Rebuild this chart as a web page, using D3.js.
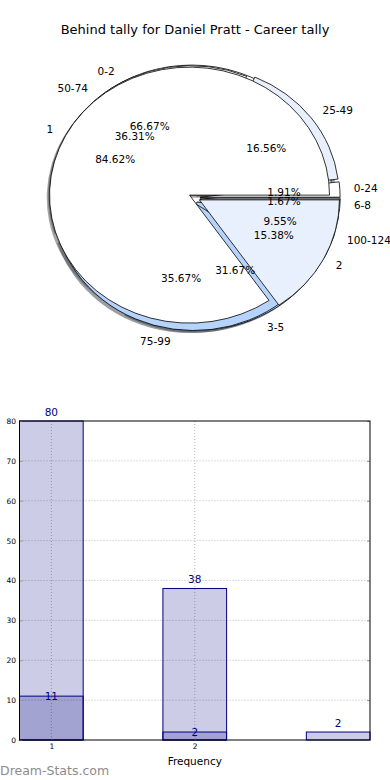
<!DOCTYPE html>
<meta charset="utf-8">
<script src="https://d3js.org/d3.v7.min.js"></script>
<style>
  body { margin: 0; background: #fff; }
  svg text { font-family: "DejaVu Sans", sans-serif; }
</style>
<div id="chart"></div>
<script>
// data
var behindLabels = ["0-2", "3-5", "6-8"]
var behindCounts = [40, 19, 1]
var careerLabels = ["0-24", "25-49", "50-74", "75-99", "100-124"]
var careerCounts = [3, 26, 57, 56, 15]
var tallyLabels = ["1", "2"]
var tallyCounts = [11, 2]

var freqCats = [1, 2, 3]
var freqValues = [80, 38, 2]
var freqOverlay = [11, 2]
var yTicks = [0, 10, 20, 30, 40, 50, 60, 70, 80]
var xTicks = [1, 2]

var width = 390, height = 780
var svg = d3.select("#chart").append("svg")
  .attr("width", width).attr("height", height)

svg.append("text")
  .attr("x", 195).attr("y", 34)
  .attr("text-anchor", "middle")
  .style("font-size", "13px")
  .text("Behind tally for Daniel Pratt - Career tally")

// ---------- pies (matplotlib style, squashed to an ellipse) ----------
var cx = 194.5, cy = 197.5, sx = 140, sy = 128
var px = d3.scaleLinear().domain([-1, 1]).range([cx - sx, cx + sx])
var py = d3.scaleLinear().domain([-1, 1]).range([cy + sy, cy - sy])

var white = "#ffffff", light = "#e9f0fd", blue = "#b5d3fb"
var explode = 0.04

var pies = [
  { labels: behindLabels, counts: behindCounts, colors: [white, blue, light] },
  { labels: careerLabels, counts: careerCounts, colors: [white, light, white, blue, light] },
  { labels: tallyLabels, counts: tallyCounts, colors: [white, light] }
]

// start at 3 o'clock, go counter-clockwise
var pie = d3.pie().sort(null).startAngle(Math.PI / 2).endAngle(Math.PI / 2 - 2 * Math.PI)
var arc = d3.arc().innerRadius(0).outerRadius(1)
var pct = d3.format(".2f")

pies.forEach(function(p) {
  p.slices = pie(p.counts)
  var total = d3.sum(p.counts)
  p.slices.forEach(function(d, i) {
    var mid = (d.startAngle + d.endAngle) / 2
    // matplotlib angle
    var phi = Math.PI / 2 - mid
    d.cos = Math.cos(phi); d.sin = Math.sin(phi)
    d.dx = explode * d.cos; d.dy = explode * d.sin
    d.color = p.colors[i]
    d.label = p.labels[i]
    d.pct = pct(100 * d.data / total) + "%"
  })
})

function wedgeTransform(d, ox, oy) {
  return "translate(" + px(d.dx + ox) + "," + py(d.dy + oy) + ") scale(" + sx + "," + sy + ")"
}

function shade(c) {
  var r = d3.rgb(c)
  return d3.rgb(r.r * 0.3, r.g * 0.3, r.b * 0.3).toString()
}

var pieG = svg.append("g")

// shadows sit below every wedge
pies.forEach(function(p) {
  pieG.selectAll(null).data(p.slices).enter()
    .append("path")
    .attr("d", arc)
    .attr("transform", function(d) { return wedgeTransform(d, -0.02, -0.02) })
    .attr("fill", function(d) { return shade(d.color) })
    .attr("fill-opacity", 0.5)
})

pies.forEach(function(p) {
  pieG.selectAll(null).data(p.slices).enter()
    .append("path")
    .attr("d", arc)
    .attr("transform", function(d) { return wedgeTransform(d, 0, 0) })
    .attr("fill", function(d) { return d.color })
    .attr("stroke", "#000")
    .attr("stroke-width", 0.8)
    .attr("vector-effect", "non-scaling-stroke")
})

pies.forEach(function(p) {
  pieG.selectAll(null).data(p.slices).enter()
    .append("text")
    .attr("x", function(d) { return px(d.dx + 1.1 * d.cos) })
    .attr("y", function(d) { return py(d.dy + 1.1 * d.sin) })
    .attr("dy", "0.35em")
    .attr("text-anchor", function(d) { return (d.dx + 1.1 * d.cos) > 0 ? "start" : "end" })
    .style("font-size", "10.5px")
    .text(function(d) { return d.label })

  pieG.selectAll(null).data(p.slices).enter()
    .append("text")
    .attr("x", function(d) { return px(d.dx + 0.6 * d.cos) })
    .attr("y", function(d) { return py(d.dy + 0.6 * d.sin) })
    .attr("dy", "0.35em")
    .attr("text-anchor", "middle")
    .style("font-size", "10.5px")
    .text(function(d) { return d.pct })
})

// ---------- frequency bars ----------
var plotLeft = 19.5, plotRight = 370, plotTop = 421, plotBottom = 740
var barW = 0.444
var x = d3.scaleLinear().domain([1 - barW / 2, 3 + barW / 2]).range([plotLeft, plotRight])
var y = d3.scaleLinear().domain([0, 80]).range([plotBottom, plotTop])
var navy = "#000080"

var barG = svg.append("g")

barG.selectAll(".gy").data(yTicks.slice(1, -1)).enter()
  .append("line")
  .attr("x1", plotLeft).attr("x2", plotRight)
  .attr("y1", function(d) { return y(d) }).attr("y2", function(d) { return y(d) })
  .attr("stroke", "#b8b8b8").attr("stroke-dasharray", "1,2")
barG.selectAll(".gx").data(xTicks).enter()
  .append("line")
  .attr("x1", function(d) { return x(d) }).attr("x2", function(d) { return x(d) })
  .attr("y1", plotTop).attr("y2", plotBottom)
  .attr("stroke", "#b8b8b8").attr("stroke-dasharray", "1,2")

barG.selectAll(".bar").data(freqValues).enter()
  .append("rect")
  .attr("x", function(d, i) { return x(freqCats[i] - barW / 2) })
  .attr("width", x(barW) - x(0))
  .attr("y", function(d) { return y(d) })
  .attr("height", function(d) { return y(0) - y(d) })
  .attr("fill", navy).attr("fill-opacity", 0.2)
  .attr("stroke", navy).attr("stroke-width", 1)

barG.selectAll(".bar2").data(freqOverlay).enter()
  .append("rect")
  .attr("x", function(d, i) { return x(freqCats[i] - barW / 2) })
  .attr("width", x(barW) - x(0))
  .attr("y", function(d) { return y(d) })
  .attr("height", function(d) { return y(0) - y(d) })
  .attr("fill", navy).attr("fill-opacity", 0.2)
  .attr("stroke", navy).attr("stroke-width", 1)

barG.selectAll(".lab").data(freqValues).enter()
  .append("text")
  .attr("x", function(d, i) { return x(freqCats[i]) })
  .attr("y", function(d) { return y(d) - 5 })
  .attr("text-anchor", "middle")
  .attr("fill", navy)
  .style("font-size", "10.5px")
  .text(function(d) { return d })

barG.selectAll(".lab2").data(freqOverlay).enter()
  .append("text")
  .attr("x", function(d, i) { return x(freqCats[i]) })
  .attr("y", function(d) { return y(d) })
  .attr("dy", "0.35em")
  .attr("text-anchor", "middle")
  .attr("fill", navy)
  .style("font-size", "10.5px")
  .text(function(d) { return d })

// axes
var yAxis = d3.axisLeft(y).tickValues(yTicks).tickSize(-3).tickPadding(3.5)
var gy = barG.append("g").attr("transform", "translate(" + plotLeft + ",0)").call(yAxis)
gy.select(".domain").remove()
gy.selectAll("text").style("font-size", "7.5px").attr("fill", "#000")
gy.selectAll("line").attr("stroke", "#999")

var yAxisR = d3.axisRight(y).tickValues(yTicks).tickSize(-3).tickFormat("")
var gyr = barG.append("g").attr("transform", "translate(" + plotRight + ",0)").call(yAxisR)
gyr.select(".domain").remove()
gyr.selectAll("line").attr("stroke", "#999")

var xAxis = d3.axisBottom(x).tickValues(xTicks).tickSize(-3).tickPadding(4).tickFormat(d3.format("d"))
var gx = barG.append("g").attr("transform", "translate(0," + plotBottom + ")").call(xAxis)
gx.select(".domain").remove()
gx.selectAll("text").style("font-size", "7.5px").attr("fill", "#000")
gx.selectAll("line").attr("stroke", "#999")

barG.append("rect")
  .attr("x", plotLeft).attr("y", plotTop)
  .attr("width", plotRight - plotLeft).attr("height", plotBottom - plotTop)
  .attr("fill", "none").attr("stroke", "#000").attr("stroke-width", 1)

barG.append("text")
  .attr("x", x(2)).attr("y", 765)
  .attr("text-anchor", "middle")
  .style("font-size", "10.5px")
  .text("Frequency")

svg.append("text")
  .attr("x", 0).attr("y", 775)
  .attr("fill", "#8c8c8c")
  .style("font-size", "12.5px")
  .text("Dream-Stats.com")
</script>
